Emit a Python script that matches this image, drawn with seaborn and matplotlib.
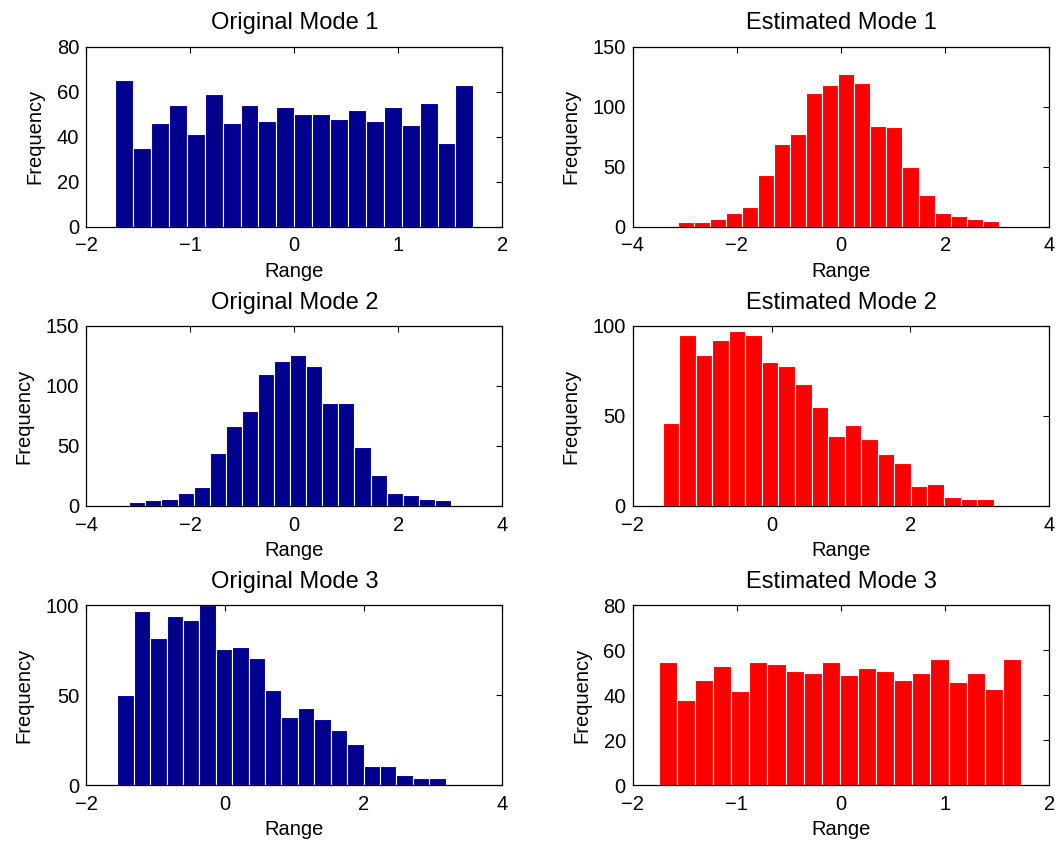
import numpy as np
import pandas as pd
import seaborn as sns
import matplotlib.pyplot as plt

# conteggi (20 classi per pannello)
orig1 = [65, 35, 46, 54, 41, 59, 46, 54, 47, 53, 50, 50, 48, 52, 47, 53, 45, 55, 37, 63]
est1 = [4, 4, 6, 11, 16, 43, 69, 77, 111, 118, 127, 120, 84, 83, 50, 26, 11, 9, 6, 5]
orig2 = [3, 5, 6, 11, 16, 44, 67, 79, 110, 121, 126, 117, 86, 86, 49, 26, 11, 9, 6, 5]
est2 = [46, 95, 84, 92, 97, 95, 80, 78, 68, 55, 39, 45, 37, 29, 24, 11, 12, 5, 4, 4]
orig3 = [50, 97, 82, 94, 92, 100, 76, 77, 71, 53, 38, 43, 37, 31, 23, 11, 11, 6, 4, 4]
est3 = [55, 38, 47, 53, 42, 55, 54, 51, 50, 55, 49, 52, 51, 47, 50, 56, 46, 50, 43, 56]

# intervallo dei dati (min, max) per ogni pannello
range_orig1 = (-1.72, 1.72)
range_est1 = (-3.13, 3.03)
range_orig2 = (-3.17, 3.01)
range_est2 = (-1.57, 3.20)
range_orig3 = (-1.55, 3.18)
range_est3 = (-1.75, 1.73)

titles = ["Original Mode 1", "Estimated Mode 1",
          "Original Mode 2", "Estimated Mode 2",
          "Original Mode 3", "Estimated Mode 3"]

sns.set_style("white")
plt.rcParams["font.family"] = ["Liberation Sans", "DejaVu Sans"]
plt.rcParams["text.color"] = "black"
plt.rcParams["axes.labelcolor"] = "black"
plt.rcParams["xtick.color"] = "black"
plt.rcParams["ytick.color"] = "black"

blu = "#00008F"
rosso = "#FF0000"

pannelli = [
    (orig1, range_orig1, blu, (-2, 2), np.arange(-2, 3, 1), (0, 80), np.arange(0, 81, 20)),
    (est1, range_est1, rosso, (-4, 4), np.arange(-4, 5, 2), (0, 150), np.arange(0, 151, 50)),
    (orig2, range_orig2, blu, (-4, 4), np.arange(-4, 5, 2), (0, 150), np.arange(0, 151, 50)),
    (est2, range_est2, rosso, (-2, 4), np.arange(-2, 5, 2), (0, 100), np.arange(0, 101, 50)),
    (orig3, range_orig3, blu, (-2, 4), np.arange(-2, 5, 2), (0, 100), np.arange(0, 101, 50)),
    (est3, range_est3, rosso, (-2, 2), np.arange(-2, 3, 1), (0, 80), np.arange(0, 81, 20)),
]

fig = plt.figure(figsize=(10.57, 8.44), dpi=100)

lefts = [0.0814, 0.5986]
bottoms = [0.7314, 0.4005, 0.0695]
w, h = 0.394, 0.2133

for i, (counts, (lo, hi), col, xl, xt, yl, yt) in enumerate(pannelli):
    ax = fig.add_axes([lefts[i % 2], bottoms[i // 2], w, h])
    nb = len(counts)
    passo = (hi - lo) / nb
    df = pd.DataFrame({"centro": lo + passo * (np.arange(nb) + 0.5),
                       "conteggio": counts})
    sns.histplot(data=df, x="centro", weights="conteggio", bins=nb,
                 binrange=(lo, hi), ax=ax, color=col, alpha=1,
                 edgecolor="white", linewidth=0.8)
    ax.set_xlim(xl)
    ax.set_ylim(yl)
    ax.set_xticks(xt)
    ax.set_yticks(yt)
    ax.set_title(titles[i], fontsize=17, pad=12.5)
    ax.set_xlabel("Range", fontsize=14.5, labelpad=4.5)
    ax.set_ylabel("Frequency", fontsize=14.5, labelpad=9)
    ax.tick_params(direction="in", length=4, width=0.8, labelsize=14.5,
                   top=True, right=True)
    ax.tick_params(axis="x", pad=7)
    ax.tick_params(axis="y", pad=5)
    for s in ax.spines.values():
        s.set_color("black")
        s.set_linewidth(0.9)

plt.savefig("out.png", dpi=100)
